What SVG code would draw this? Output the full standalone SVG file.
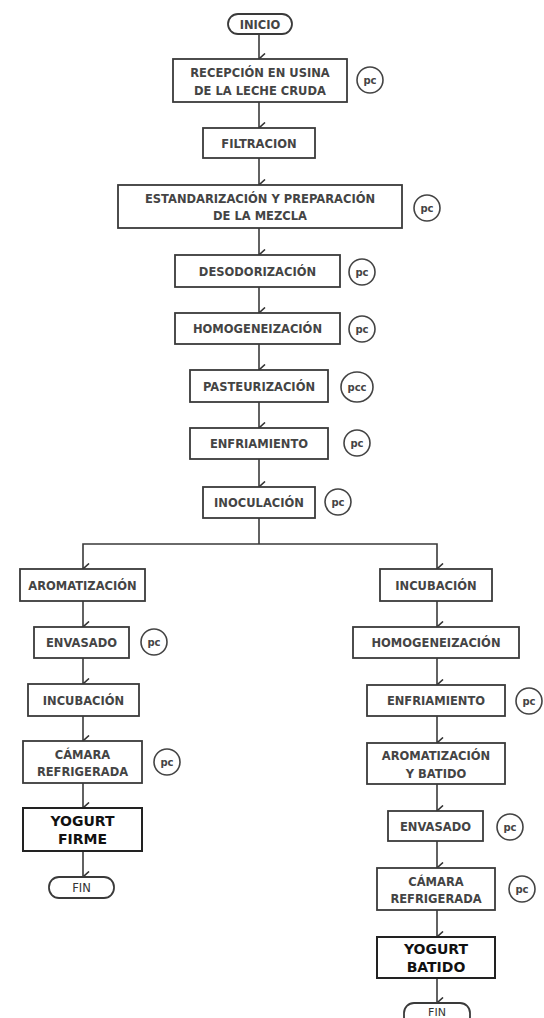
<svg xmlns="http://www.w3.org/2000/svg" width="544" height="1018" viewBox="0 0 544 1018">
<defs>
<marker id="arr" viewBox="0 0 12 10" refX="6" refY="9" markerWidth="12" markerHeight="10" markerUnits="userSpaceOnUse" orient="auto-start-reverse">
<polyline points="0.5,3 6,9 11.5,3" fill="none" stroke="#333" stroke-width="1.6"/>
</marker>
<style>
.box{fill:#fff;stroke:#3a3a3a;stroke-width:1.8}
.t{font-family:"DejaVu Sans",Verdana,sans-serif;font-weight:bold;font-size:11.5px;fill:#444;text-anchor:middle}
.big{font-family:"DejaVu Sans",Verdana,sans-serif;font-weight:bold;font-size:14px;fill:#111;text-anchor:middle}
.pcc{fill:#fff;stroke:#444;stroke-width:1.6}
.pt{font-family:"DejaVu Sans",Verdana,sans-serif;font-weight:bold;font-size:10px;fill:#444;text-anchor:middle}
.ln{fill:none;stroke:#3a3a3a;stroke-width:1.6}
.la{fill:none;stroke:#3a3a3a;stroke-width:1.6;marker-end:url(#arr)}
</style>
</defs>
<rect width="544" height="1018" fill="#fff"/>
<g id="connectors">
<line class="la" x1="259" y1="34" x2="259" y2="59"/>
<line class="la" x1="259" y1="102" x2="259" y2="128"/>
<line class="la" x1="259" y1="158" x2="259" y2="185"/>
<line class="la" x1="259" y1="228" x2="259" y2="255"/>
<line class="la" x1="259" y1="287" x2="259" y2="313"/>
<line class="la" x1="259" y1="344" x2="259" y2="370"/>
<line class="la" x1="259" y1="402" x2="259" y2="428"/>
<line class="la" x1="259" y1="459" x2="259" y2="487"/>
<polyline class="ln" points="259,518 259,544"/>
<polyline class="la" points="83,569 83,544 437,544 437,569" style="marker-end:url(#arr);marker-start:url(#arr)"/>
<line class="la" x1="83" y1="601" x2="83" y2="627"/>
<line class="la" x1="83" y1="658" x2="83" y2="684"/>
<line class="la" x1="83" y1="716" x2="83" y2="741"/>
<line class="la" x1="83" y1="783" x2="83" y2="808"/>
<line class="la" x1="83" y1="851" x2="83" y2="877"/>
<line class="la" x1="437" y1="601" x2="437" y2="627"/>
<line class="la" x1="437" y1="658" x2="437" y2="685"/>
<line class="la" x1="437" y1="716" x2="437" y2="743"/>
<line class="la" x1="437" y1="784" x2="437" y2="811"/>
<line class="la" x1="437" y1="841" x2="437" y2="868"/>
<line class="la" x1="437" y1="910" x2="437" y2="937"/>
<line class="la" x1="437" y1="978" x2="437" y2="1003"/>
</g>
<g id="inicio"><rect class="box" x="228" y="14" width="64" height="20" rx="10"/><text class="t" x="260" y="28.5">INICIO</text></g>
<g id="recepcion"><rect class="box" x="173" y="59" width="174" height="43"/><text class="t" x="260" y="77">RECEPCIÓN EN USINA</text><text class="t" x="260" y="95">DE LA LECHE CRUDA</text>
<circle class="pcc" cx="370" cy="80" r="13"/><text class="pt" x="370" y="84">pc</text></g>
<g id="filtracion"><rect class="box" x="203" y="128" width="112" height="30"/><text class="t" x="259" y="147.5">FILTRACION</text></g>
<g id="estandarizacion"><rect class="box" x="118" y="185" width="284" height="43"/><text class="t" x="260" y="202.5">ESTANDARIZACIÓN Y PREPARACIÓN</text><text class="t" x="260" y="220">DE LA MEZCLA</text>
<circle class="pcc" cx="427" cy="208" r="13"/><text class="pt" x="427" y="212">pc</text></g>
<g id="desodorizacion"><rect class="box" x="175" y="255" width="165" height="32"/><text class="t" x="257.5" y="275.5">DESODORIZACIÓN</text>
<circle class="pcc" cx="362" cy="272" r="13"/><text class="pt" x="362" y="276">pc</text></g>
<g id="homogeneizacion"><rect class="box" x="175" y="313" width="165" height="31"/><text class="t" x="257.5" y="333">HOMOGENEIZACIÓN</text>
<circle class="pcc" cx="362" cy="329" r="13"/><text class="pt" x="362" y="333">pc</text></g>
<g id="pasteurizacion"><rect class="box" x="190" y="370" width="138" height="32"/><text class="t" x="259" y="390.5">PASTEURIZACIÓN</text>
<ellipse class="pcc" cx="357" cy="387" rx="16" ry="15"/><text class="pt" x="357" y="391">pcc</text></g>
<g id="enfriamiento"><rect class="box" x="190" y="428" width="138" height="31"/><text class="t" x="259" y="448">ENFRIAMIENTO</text>
<circle class="pcc" cx="357" cy="443" r="13"/><text class="pt" x="357" y="447">pc</text></g>
<g id="inoculacion"><rect class="box" x="203" y="487" width="112" height="31"/><text class="t" x="259" y="507">INOCULACIÓN</text>
<circle class="pcc" cx="338" cy="502" r="13"/><text class="pt" x="338" y="506">pc</text></g>
<g id="aromatizacion-l"><rect class="box" x="20" y="569" width="125" height="32"/><text class="t" x="82.5" y="589.5">AROMATIZACIÓN</text></g>
<g id="envasado-l"><rect class="box" x="34" y="627" width="95" height="31"/><text class="t" x="81.5" y="647">ENVASADO</text>
<circle class="pcc" cx="154" cy="642" r="13"/><text class="pt" x="154" y="646">pc</text></g>
<g id="incubacion-l"><rect class="box" x="28" y="684" width="111" height="32"/><text class="t" x="83.5" y="704.5">INCUBACIÓN</text></g>
<g id="camara-l"><rect class="box" x="23" y="741" width="119" height="42"/><text class="t" x="82.5" y="758.5">CÁMARA</text><text class="t" x="82.5" y="776">REFRIGERADA</text>
<circle class="pcc" cx="167" cy="762" r="13"/><text class="pt" x="167" y="766">pc</text></g>
<g id="yogurt-firme"><rect class="box" x="23" y="808" width="119" height="43" style="stroke:#222;stroke-width:2"/><text class="big" x="82.5" y="826">YOGURT</text><text class="big" x="82.5" y="844">FIRME</text></g>
<g id="fin-l"><rect class="box" x="49" y="877" width="65" height="21" rx="10"/><text class="t" x="81.5" y="891.5" style="font-weight:normal;fill:#333">FIN</text></g>
<g id="incubacion-r"><rect class="box" x="380" y="569" width="112" height="32"/><text class="t" x="436" y="589.5">INCUBACIÓN</text></g>
<g id="homogeneizacion-r"><rect class="box" x="353" y="627" width="166" height="31"/><text class="t" x="436" y="647">HOMOGENEIZACIÓN</text></g>
<g id="enfriamiento-r"><rect class="box" x="367" y="685" width="138" height="31"/><text class="t" x="436" y="705">ENFRIAMIENTO</text>
<circle class="pcc" cx="529" cy="701" r="13"/><text class="pt" x="529" y="705">pc</text></g>
<g id="aromatizacion-r"><rect class="box" x="367" y="743" width="138" height="41"/><text class="t" x="436" y="760">AROMATIZACIÓN</text><text class="t" x="436" y="777.5">Y BATIDO</text></g>
<g id="envasado-r"><rect class="box" x="388" y="811" width="95" height="30"/><text class="t" x="435.5" y="830.5">ENVASADO</text>
<circle class="pcc" cx="510" cy="827" r="13"/><text class="pt" x="510" y="831">pc</text></g>
<g id="camara-r"><rect class="box" x="377" y="868" width="118" height="42"/><text class="t" x="436" y="885.5">CÁMARA</text><text class="t" x="436" y="903">REFRIGERADA</text>
<circle class="pcc" cx="522" cy="889" r="13"/><text class="pt" x="522" y="893">pc</text></g>
<g id="yogurt-batido"><rect class="box" x="377" y="937" width="118" height="41" style="stroke:#222;stroke-width:2"/><text class="big" x="436" y="954">YOGURT</text><text class="big" x="436" y="972">BATIDO</text></g>
<g id="fin-r"><rect class="box" x="404" y="1003" width="66" height="24" rx="10"/><text class="t" x="437" y="1016" style="font-weight:normal;fill:#333;font-size:11px">FIN</text></g>
</svg>
